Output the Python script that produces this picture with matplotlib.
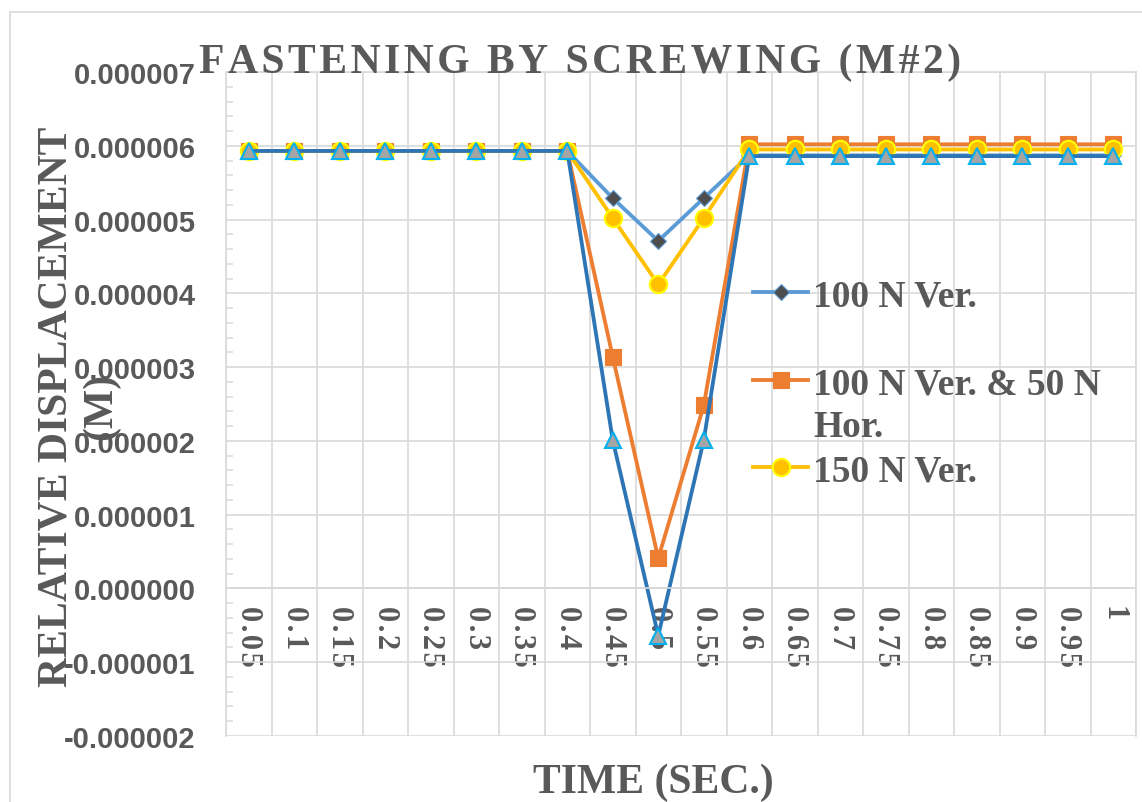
import matplotlib
matplotlib.use("Agg")
import matplotlib.pyplot as plt
from matplotlib.patches import Rectangle
from matplotlib.ticker import FixedLocator, MultipleLocator, FormatStrFormatter

# Categorias do eixo X (tempo em segundos)
tempo = ["0.05", "0.1", "0.15", "0.2", "0.25", "0.3", "0.35", "0.4", "0.45", "0.5",
         "0.55", "0.6", "0.65", "0.7", "0.75", "0.8", "0.85", "0.9", "0.95", "1"]

# Deslocamento relativo, em micrometros (x 1e-6 m)
ver_100 = [5.93, 5.93, 5.93, 5.93, 5.93, 5.93, 5.93, 5.93, 5.29, 4.71,
           5.29, 5.87, 5.87, 5.87, 5.87, 5.87, 5.87, 5.87, 5.87, 5.87]
ver_100_hor_50 = [5.93, 5.93, 5.93, 5.93, 5.93, 5.93, 5.93, 5.93, 3.14, 0.41,
                  2.48, 6.02, 6.02, 6.02, 6.02, 6.02, 6.02, 6.02, 6.02, 6.02]
ver_150 = [5.93, 5.93, 5.93, 5.93, 5.93, 5.93, 5.93, 5.93, 5.02, 4.12,
           5.02, 5.95, 5.95, 5.95, 5.95, 5.95, 5.95, 5.95, 5.95, 5.95]
serie_4 = [5.93, 5.93, 5.93, 5.93, 5.93, 5.93, 5.93, 5.93, 2.01, -0.64,
           2.01, 5.86, 5.86, 5.86, 5.86, 5.86, 5.86, 5.86, 5.86, 5.86]

nomes = ["100 N Ver.", "100 N Ver. & 50 N\nHor.", "150 N Ver."]

CINZA = "#595959"
GRADE = "#D9D9D9"
SERIF = ["Liberation Serif", "DejaVu Serif"]

estilos = [
    dict(color="#5B9BD5", marker="D", ms=8.5, mfc="#4D4D4D", mec="#5B9BD5", mew=0.8),
    dict(color="#ED7D31", marker="s", ms=12, mfc="#ED7D31", mec="#ED7D31", mew=0.8),
    dict(color="#FFC000", marker="o", ms=12.5, mfc="#FFC000", mec="#FFFF00", mew=1.5),
    dict(color="#2E75B6", marker="^", ms=12, mfc="#A5A5A5", mec="#00B0F0", mew=1.5),
]


def espacado(texto):
    # Excel usa espaçamento entre letras; aqui um "hair space" entre cada caractere
    return "\u200a".join(texto)


fig = plt.figure(figsize=(11.42, 8.03), dpi=100)
ax = fig.add_axes([226 / 1142, 66 / 803, 910 / 1142, 664 / 803])

# O eixo horizontal cruza em zero (tem que vir antes de formatar os rótulos)
ax.spines["bottom"].set_position(("data", 0))

x = list(range(len(tempo)))
series = [ver_100, ver_100_hor_50, ver_150, serie_4]
for valores, st in zip(series, estilos):
    ax.plot(x, [v * 1e-6 for v in valores], lw=2.75, **st)

ax.set_xlim(-0.5, len(tempo) - 0.5)
ax.set_ylim(-2e-6, 7e-6)

# Grade vertical entre as categorias, rótulos no centro
ax.xaxis.set_major_locator(FixedLocator(x))
ax.xaxis.set_minor_locator(FixedLocator([i - 0.5 for i in range(len(tempo) + 1)]))
ax.set_xticklabels([espacado(t) for t in tempo], rotation=-90, va="top", ha="center",
                   fontsize=22, fontweight="bold", family=SERIF, color=CINZA)
ax.tick_params(axis="x", which="both", length=0, pad=12)
ax.grid(True, axis="x", which="minor", color=GRADE, lw=1.2)

ax.yaxis.set_major_locator(MultipleLocator(1e-6))
ax.yaxis.set_minor_locator(MultipleLocator(2e-7))
ax.yaxis.set_major_formatter(FormatStrFormatter("%.6f"))
ax.grid(True, axis="y", which="major", color=GRADE, lw=1.2)
ax.tick_params(axis="y", which="major", length=0, pad=22, labelsize=21, labelcolor=CINZA)
ax.tick_params(axis="y", which="minor", direction="in", length=5, width=1.1, color=GRADE)
for lbl in ax.get_yticklabels():
    lbl.set_fontweight("bold")
    lbl.set_family("Liberation Sans")

ax.set_axisbelow(True)
for lado in ["left", "right", "top", "bottom"]:
    ax.spines[lado].set_color(GRADE)
    ax.spines[lado].set_linewidth(1.2)

# Legenda montada à mão (só as três primeiras séries aparecem)
leg_y = [0.6687, 0.536, 0.405]
entrelinha = 42 / 664
for nome, st, yy in zip(nomes, estilos, leg_y):
    ax.plot([0.579, 0.6095, 0.640], [yy, yy, yy], transform=ax.transAxes,
            clip_on=False, lw=2.75, markevery=[1], **st)
    for j, linha in enumerate(nome.split("\n")):
        ax.text(0.645, yy - j * entrelinha, linha, transform=ax.transAxes,
                va="center_baseline", ha="left", fontsize=27, fontweight="bold",
                family=SERIF, color=CINZA)

fig.text(0.508, 0.909, espacado("FASTENING BY SCREWING (M#2)"), ha="center",
         va="baseline", fontsize=30, fontweight="bold", family=SERIF, color=CINZA)
fig.text(0.069, 0.494, "RELATIVE DISPLACEMENT\n(M)", rotation=90, ha="center",
         va="center", multialignment="center", fontsize=30, fontweight="bold",
         family=SERIF, color=CINZA, linespacing=1.2)
fig.text(0.572, 0.012, "TIME (SEC.)", ha="center", va="baseline",
         fontsize=30, fontweight="bold", family=SERIF, color=CINZA)

# Moldura da área do gráfico
fig.add_artist(Rectangle((9.5 / 1142, -0.1), 1.2, 1.1 - 12.5 / 803,
                         transform=fig.transFigure, fill=False, ec=GRADE, lw=1.2))

fig.savefig("out.png", dpi=100)
